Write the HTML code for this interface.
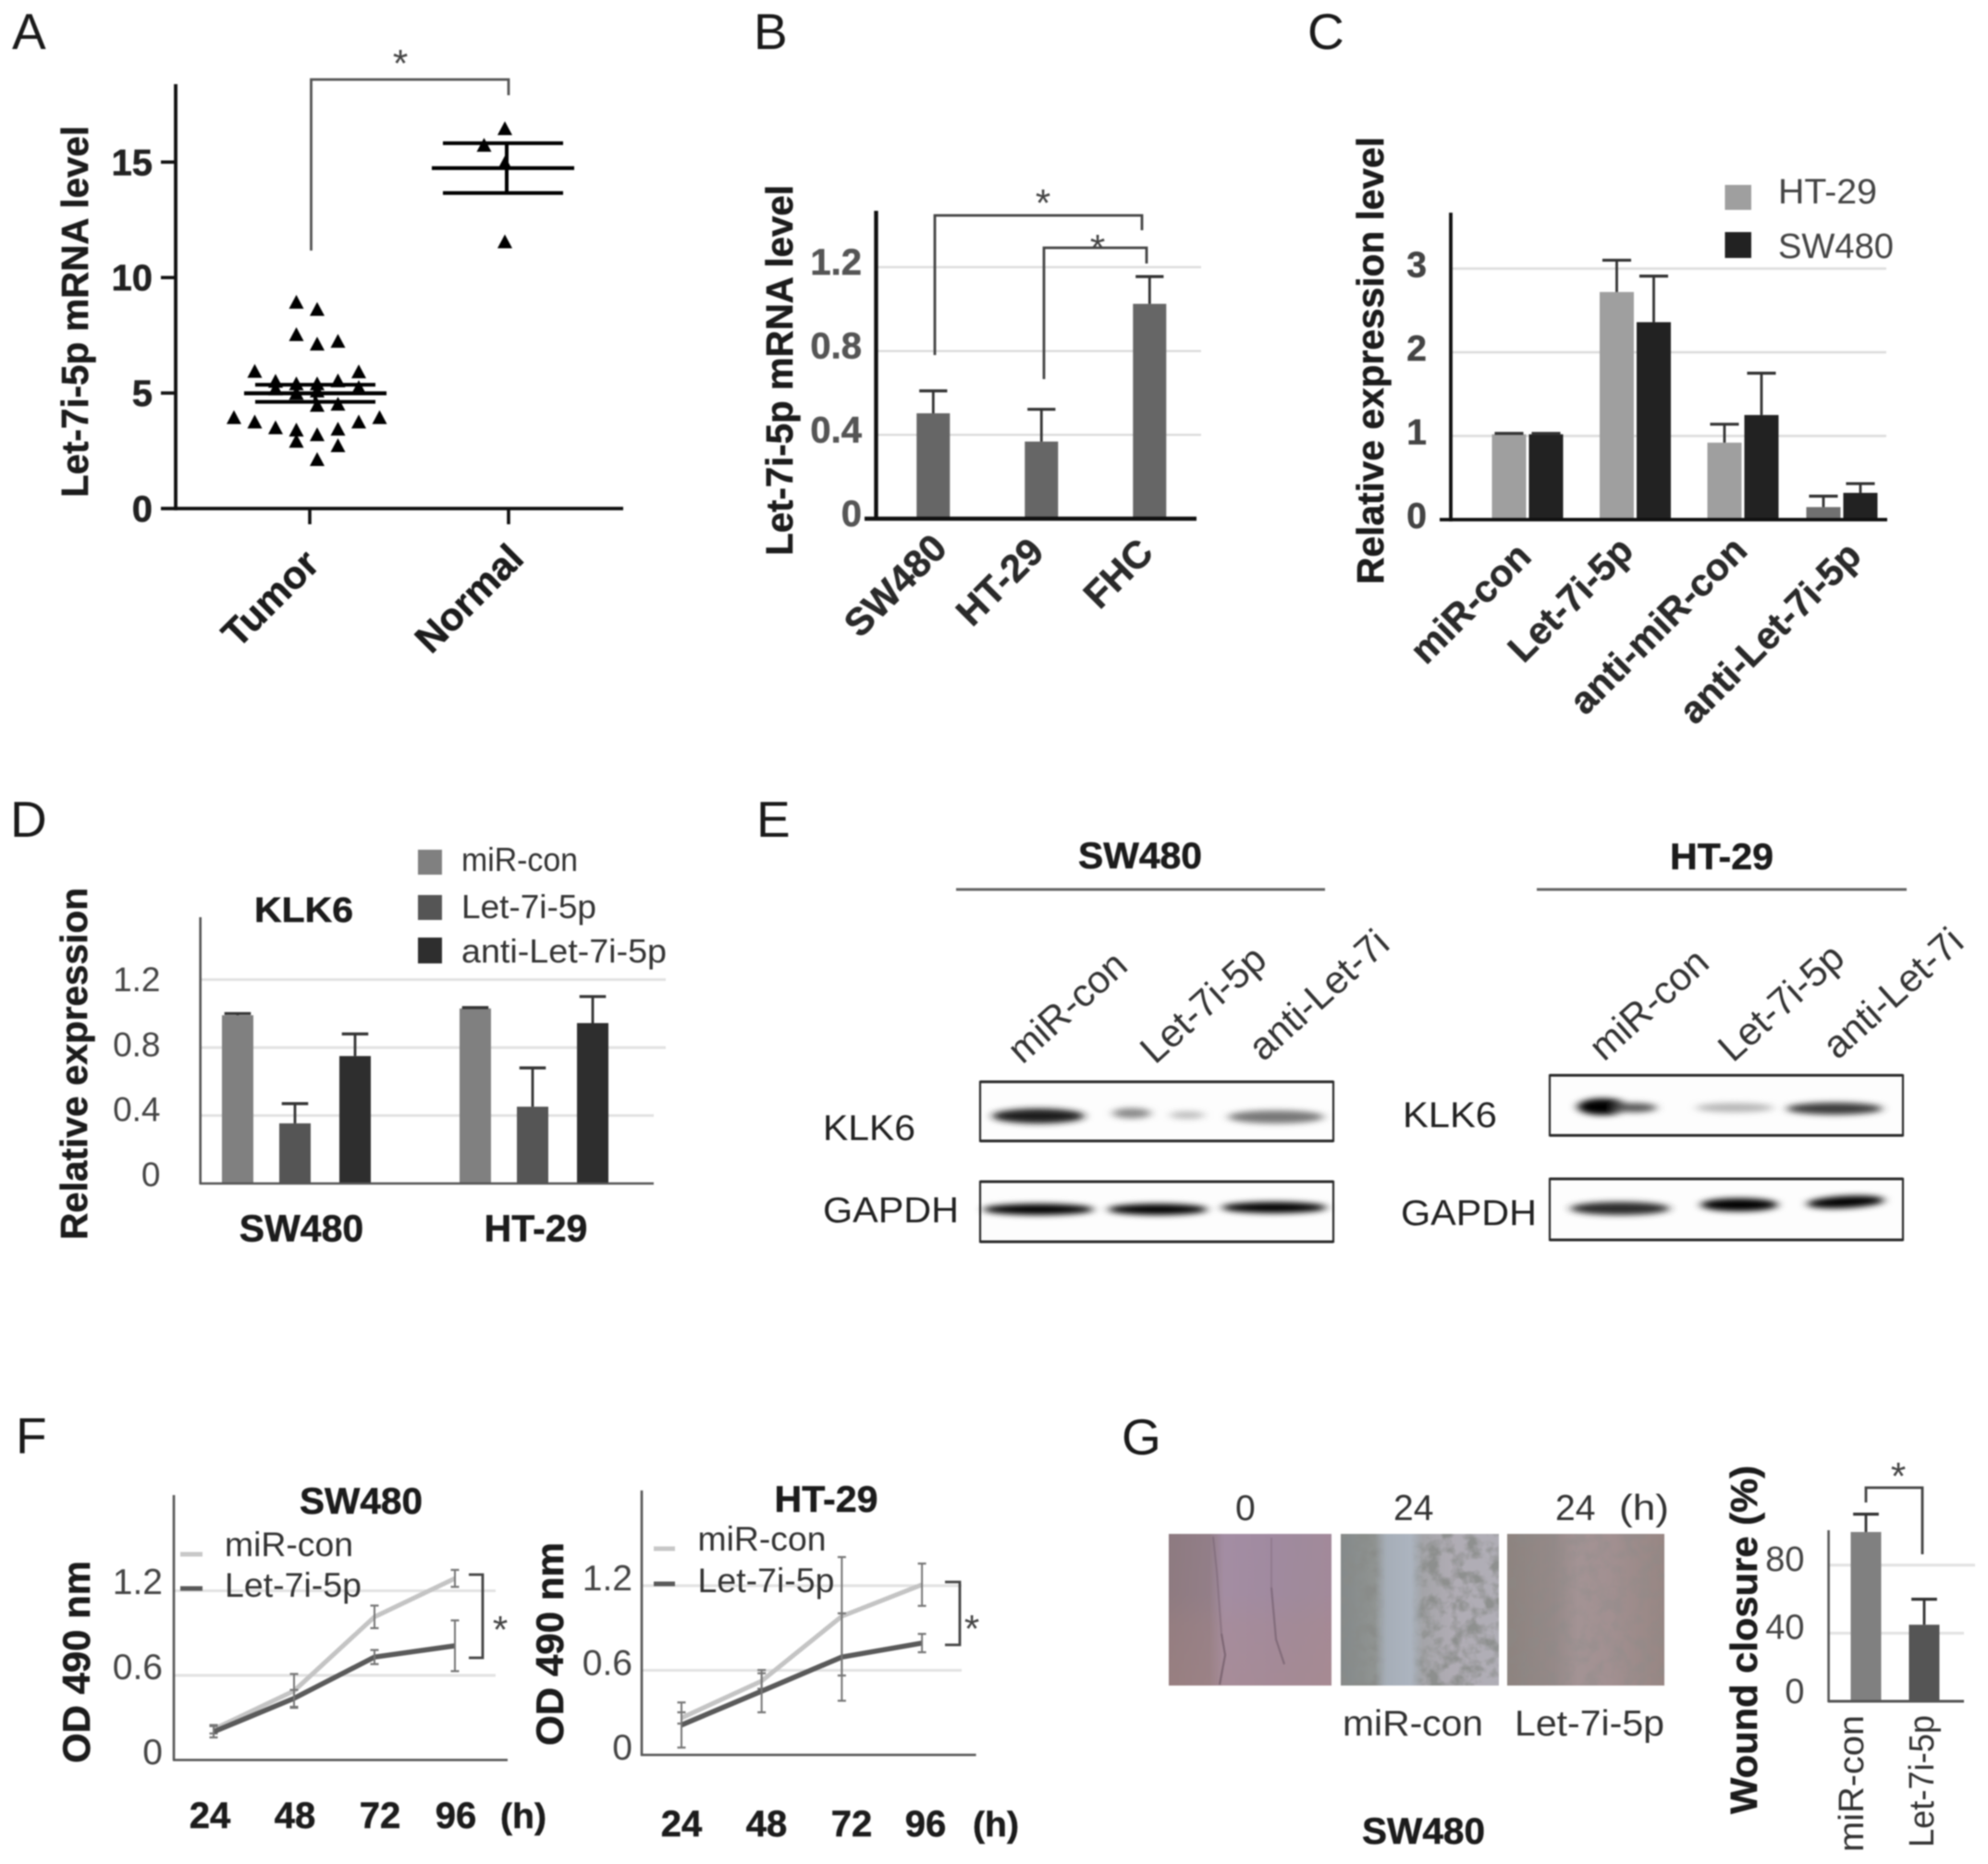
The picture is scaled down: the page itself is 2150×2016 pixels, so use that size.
<!DOCTYPE html>
<html lang="en">
<head>
<meta charset="utf-8">
<title>Let-7i-5p multi-panel figure</title>
<style>
html,body{margin:0;padding:0;background:#fff;}
svg{display:block;position:absolute;left:0;top:0;filter:blur(0.8px);font-family:"Liberation Sans",Arial,sans-serif;}
.panel{font-size:55px;fill:#1a1a1a;}
.bt{font-weight:700;fill:#1c1c1c;stroke:#1c1c1c;stroke-width:0.5;}
.rt{font-weight:400;fill:#333;}
.star{font-size:42px;fill:#444;text-anchor:middle;}
.br{fill:none;stroke:#444;stroke-width:2.8;}
.ax{stroke:#111;}
.thin{stroke:#555;stroke-width:2.6;}
.box{fill:#fdfdfd;stroke:#2c2c2c;stroke-width:2.2;}
.edge{stroke:#2c2c2c;stroke-width:3;}
</style>
</head>
<body>
<svg id="fig" xmlns="http://www.w3.org/2000/svg" width="2150" height="2016" viewBox="0 0 2150 2016">
<defs>
<filter id="bandBlur" x="-30%" y="-200%" width="160%" height="500%"><feGaussianBlur stdDeviation="5 3.2"/></filter>
<filter id="speckle" x="0" y="0" width="100%" height="100%">
  <feTurbulence type="fractalNoise" baseFrequency="0.07" numOctaves="3" seed="4"/>
  <feColorMatrix type="matrix" values="0 0 0 0 0.25  0 0 0 0 0.26  0 0 0 0 0.25  2.2 2.2 0 0 -1.9"/>
</filter>
<linearGradient id="woundA" x1="0" x2="1" y1="0" y2="0">
  <stop offset="0" stop-color="#8d7a80"/><stop offset="0.25" stop-color="#927e88"/><stop offset="0.34" stop-color="#a38da3"/><stop offset="0.62" stop-color="#a08aa0"/><stop offset="0.8" stop-color="#9f8a9c"/><stop offset="1" stop-color="#a2899a"/>
</linearGradient>
<linearGradient id="woundAPink" x1="0" x2="0" y1="0" y2="1">
  <stop offset="0" stop-color="#b08a80" stop-opacity="0"/><stop offset="0.4" stop-color="#b08a80" stop-opacity="0.03"/><stop offset="0.6" stop-color="#b08a80" stop-opacity="0.2"/><stop offset="1" stop-color="#b08a80" stop-opacity="0.3"/>
</linearGradient>
<linearGradient id="woundB" x1="0" x2="1" y1="0" y2="0">
  <stop offset="0" stop-color="#84898a"/><stop offset="0.2" stop-color="#8f9391"/><stop offset="0.36" stop-color="#999c9e"/><stop offset="0.52" stop-color="#a4a4a8"/><stop offset="0.7" stop-color="#b0acb4"/><stop offset="1" stop-color="#b0aeb6"/>
</linearGradient>
<linearGradient id="woundBand" x1="0" x2="1" y1="0" y2="0">
  <stop offset="0" stop-color="#aab2bc" stop-opacity="0"/><stop offset="0.25" stop-color="#a6aeb8" stop-opacity="1"/><stop offset="0.75" stop-color="#acb4bf" stop-opacity="1"/><stop offset="1" stop-color="#aab2bc" stop-opacity="0"/>
</linearGradient>
<linearGradient id="woundC" x1="0" x2="1" y1="0" y2="0">
  <stop offset="0" stop-color="#8d837f"/><stop offset="0.3" stop-color="#958988"/><stop offset="0.45" stop-color="#a39394"/><stop offset="0.65" stop-color="#a29091"/><stop offset="1" stop-color="#978683"/>
</linearGradient>
</defs>

<!-- Panel A -->
<g>
  <text class="panel" x="13" y="53">A</text>
  <g id="a-marks"></g>
  <line class="ax" x1="190" y1="91" x2="190" y2="552" stroke-width="3.8"/>
  <line class="ax" x1="174" y1="550" x2="674" y2="550" stroke-width="3.8"/>
  <text class="bt" font-size="41" x="95" y="538" textLength="402" lengthAdjust="spacingAndGlyphs" transform="rotate(-90 95 538)">Let-7i-5p mRNA level</text>
  <path class="br" style="stroke:#555" d="M336.5 271V86H550V103"/>
  <text class="star" x="433" y="83">*</text>
</g>

<!-- Panel B -->
<g>
  <text class="panel" x="815" y="53">B</text>
  <g id="b-marks"></g>
  <line class="ax" x1="947.5" y1="228" x2="947.5" y2="563" stroke-width="4.4"/>
  <line class="ax" x1="935" y1="561" x2="1294" y2="561" stroke-width="4.4"/>
  <text class="bt" font-size="41" x="857" y="601" textLength="401" lengthAdjust="spacingAndGlyphs" transform="rotate(-90 857 601)">Let-7i-5p mRNA level</text>
  <path class="br" d="M1011 384V233H1235V249"/>
  <path class="br" d="M1129 410V268H1240V285"/>
  <text class="star" x="1128" y="234">*</text>
  <text class="star" x="1187" y="283">*</text>
</g>

<!-- Panel C -->
<g>
  <text class="panel" x="1414" y="53">C</text>
  <g id="c-marks"></g>
  <line class="ax" x1="1569" y1="230" x2="1569" y2="564" stroke-width="3.8"/>
  <line class="ax" x1="1557" y1="562" x2="2041" y2="562" stroke-width="3.8"/>
  <text class="bt" font-size="41" x="1496" y="632" textLength="484" lengthAdjust="spacingAndGlyphs" transform="rotate(-90 1496 632)">Relative expression level</text>
  <rect x="1865.5" y="200" width="28.5" height="27" fill="#9f9f9f"/>
  <rect x="1865.5" y="251" width="28.5" height="28" fill="#222"/>
  <text x="1923" y="220" font-size="38" fill="#444" textLength="107" lengthAdjust="spacingAndGlyphs">HT-29</text>
  <text x="1923" y="279" font-size="38" fill="#444" textLength="125" lengthAdjust="spacingAndGlyphs">SW480</text>
</g>

<!-- Panel D -->
<g>
  <text class="panel" x="11" y="905">D</text>
  <g id="d-marks"></g>
  <line class="thin" x1="216.7" y1="992" x2="216.7" y2="1281"/>
  <line class="thin" x1="216" y1="1280" x2="707" y2="1280"/>
  <text class="bt" font-size="41" x="94" y="1341" textLength="381" lengthAdjust="spacingAndGlyphs" transform="rotate(-90 94 1341)">Relative expression</text>
  <text class="bt" font-size="38" x="275" y="997" textLength="107" lengthAdjust="spacingAndGlyphs">KLK6</text>
  <rect x="452" y="919" width="26" height="27" fill="#808080"/>
  <rect x="452" y="968" width="26" height="27" fill="#555"/>
  <rect x="452" y="1014" width="26" height="28" fill="#2e2e2e"/>
  <text class="rt" font-size="36" x="499" y="942" textLength="126" lengthAdjust="spacingAndGlyphs">miR-con</text>
  <text class="rt" font-size="36" x="499" y="993" textLength="146" lengthAdjust="spacingAndGlyphs">Let-7i-5p</text>
  <text class="rt" font-size="36" x="499" y="1041" textLength="222" lengthAdjust="spacingAndGlyphs">anti-Let-7i-5p</text>
</g>

<!-- Panel E -->
<g>
  <text class="panel" x="818" y="905">E</text>
  <text class="bt" font-size="40" x="1166" y="939" textLength="134" lengthAdjust="spacingAndGlyphs">SW480</text>
  <text class="bt" font-size="40" x="1806" y="940" textLength="112" lengthAdjust="spacingAndGlyphs">HT-29</text>
  <line x1="1034" y1="962" x2="1433" y2="962" stroke="#666" stroke-width="3"/>
  <line x1="1662" y1="962" x2="2062" y2="962" stroke="#666" stroke-width="3"/>
  <g font-size="42" fill="#333" text-anchor="middle">
    <text x="1155" y="1103" transform="rotate(-42 1155 1090)">miR-con</text>
    <text x="1302" y="1100" transform="rotate(-42 1302 1087)">Let-7i-5p</text>
    <text x="1427" y="1090" transform="rotate(-42 1427 1077)">anti-Let-7i</text>
    <text x="1784" y="1100" transform="rotate(-42 1784 1087)">miR-con</text>
    <text x="1927" y="1098" transform="rotate(-42 1927 1085)">Let-7i-5p</text>
    <text x="2048" y="1088" transform="rotate(-42 2048 1075)">anti-Let-7i</text>
  </g>
  <text font-size="39" fill="#222" x="890" y="1233" textLength="100" lengthAdjust="spacingAndGlyphs">KLK6</text>
  <text font-size="39" fill="#222" x="890" y="1322" textLength="147" lengthAdjust="spacingAndGlyphs">GAPDH</text>
  <text font-size="39" fill="#222" x="1517" y="1219" textLength="102" lengthAdjust="spacingAndGlyphs">KLK6</text>
  <text font-size="39" fill="#222" x="1515" y="1325" textLength="147" lengthAdjust="spacingAndGlyphs">GAPDH</text>

  <g>
    <rect class="box" x="1060" y="1170" width="382" height="64"/>
    <g filter="url(#bandBlur)">
      <ellipse cx="1123" cy="1207" rx="50" ry="8" fill="#1a1a1a"/>
      <ellipse cx="1224" cy="1204" rx="21" ry="5.5" fill="#888"/>
      <ellipse cx="1284" cy="1206" rx="19" ry="4" fill="#bbb"/>
      <ellipse cx="1380" cy="1208" rx="52" ry="7" fill="#777"/>
    </g>
    <line class="edge" x1="1060" y1="1170" x2="1442" y2="1170"/>
    <line class="edge" x1="1060" y1="1234" x2="1442" y2="1234"/>
  </g>
  <g>
    <rect class="box" x="1060" y="1278" width="382" height="65"/>
    <g filter="url(#bandBlur)">
      <ellipse cx="1123" cy="1308" rx="60" ry="6" fill="#000"/>
      <ellipse cx="1252" cy="1308" rx="54" ry="6" fill="#000"/>
      <ellipse cx="1378" cy="1306" rx="57" ry="6" fill="#000"/>
    </g>
    <line class="edge" x1="1060" y1="1278" x2="1442" y2="1278"/>
    <line class="edge" x1="1060" y1="1343" x2="1442" y2="1343"/>
  </g>
  <g>
    <rect class="box" x="1676" y="1163" width="382" height="65"/>
    <g filter="url(#bandBlur)">
      <ellipse cx="1733" cy="1197" rx="27" ry="9" fill="#000"/>
      <ellipse cx="1768" cy="1198" rx="24" ry="5" fill="#555"/>
      <ellipse cx="1876" cy="1198" rx="42" ry="5" fill="#b5b5b5"/>
      <ellipse cx="1984" cy="1199" rx="52" ry="6.5" fill="#3a3a3a"/>
    </g>
    <line class="edge" x1="1676" y1="1163" x2="2058" y2="1163"/>
    <line class="edge" x1="1676" y1="1228" x2="2058" y2="1228"/>
  </g>
  <g>
    <rect class="box" x="1676" y="1275" width="382" height="66"/>
    <g filter="url(#bandBlur)">
      <ellipse cx="1752" cy="1307" rx="54" ry="7" fill="#2a2a2a"/>
      <ellipse cx="1881" cy="1303" rx="42" ry="7" fill="#000"/>
      <ellipse cx="1996" cy="1300" rx="42" ry="6.5" fill="#000" transform="rotate(-3 1996 1300)"/>
    </g>
    <line class="edge" x1="1676" y1="1275" x2="2058" y2="1275"/>
    <line class="edge" x1="1676" y1="1341" x2="2058" y2="1341"/>
  </g>
</g>

<!-- Panel F -->
<g>
  <text class="panel" x="17" y="1572">F</text>
  <g id="f1-marks"></g>
  <line class="thin" x1="188" y1="1617" x2="188" y2="1904"/>
  <line class="thin" x1="187" y1="1903.5" x2="549" y2="1903.5"/>
  <text class="bt" font-size="42" x="97" y="1907" textLength="219" lengthAdjust="spacingAndGlyphs" transform="rotate(-90 97 1907)">OD 490 nm</text>
  <text class="bt" font-size="40" x="324" y="1637" textLength="133" lengthAdjust="spacingAndGlyphs">SW480</text>
  <line x1="195" y1="1681" x2="219" y2="1681" stroke="#c8c8c8" stroke-width="5"/>
  <line x1="195" y1="1718" x2="219" y2="1718" stroke="#5a5a5a" stroke-width="5"/>
  <text class="rt" font-size="37.5" x="243" y="1683" textLength="139" lengthAdjust="spacingAndGlyphs">miR-con</text>
  <text class="rt" font-size="37.5" x="243" y="1727" textLength="148" lengthAdjust="spacingAndGlyphs">Let-7i-5p</text>
  <path class="br" style="stroke-width:2.8" d="M507 1703H522V1793H507"/>
  <text class="star" x="541" y="1777">*</text>
  <text class="bt" font-size="38" x="541" y="1977" textLength="50" lengthAdjust="spacingAndGlyphs">(h)</text>

  <g id="f2-marks"></g>
  <line class="thin" x1="694" y1="1612" x2="694" y2="1899"/>
  <line class="thin" x1="693" y1="1898" x2="1055.6" y2="1898"/>
  <text class="bt" font-size="42" x="609" y="1888" textLength="220" lengthAdjust="spacingAndGlyphs" transform="rotate(-90 609 1888)">OD 490 nm</text>
  <text class="bt" font-size="40" x="837.5" y="1635" textLength="112" lengthAdjust="spacingAndGlyphs">HT-29</text>
  <line x1="707" y1="1675" x2="730" y2="1675" stroke="#c8c8c8" stroke-width="5"/>
  <line x1="707" y1="1713" x2="730" y2="1713" stroke="#5a5a5a" stroke-width="5"/>
  <text class="rt" font-size="37.5" x="754.5" y="1677" textLength="139" lengthAdjust="spacingAndGlyphs">miR-con</text>
  <text class="rt" font-size="37.5" x="754.5" y="1722" textLength="148" lengthAdjust="spacingAndGlyphs">Let-7i-5p</text>
  <path class="br" style="stroke-width:2.8" d="M1022 1711H1038V1779H1022"/>
  <text class="star" x="1051" y="1776">*</text>
  <text class="bt" font-size="38" x="1052" y="1986" textLength="50" lengthAdjust="spacingAndGlyphs">(h)</text>
</g>

<!-- Panel G -->
<g>
  <text class="panel" x="1213" y="1573">G</text>
  <g font-size="39" fill="#333">
    <text x="1336" y="1644">0</text>
    <text x="1507" y="1644">24</text>
    <text x="1682" y="1644">24</text>
    <text x="1751" y="1644" textLength="54" lengthAdjust="spacingAndGlyphs">(h)</text>
    <text x="1452" y="1877" textLength="152" lengthAdjust="spacingAndGlyphs">miR-con</text>
    <text x="1638" y="1877" textLength="162" lengthAdjust="spacingAndGlyphs">Let-7i-5p</text>
  </g>
  <text class="bt" font-size="40" x="1473" y="1994" textLength="133" lengthAdjust="spacingAndGlyphs">SW480</text>
  <g>
    <rect x="1264" y="1659" width="176" height="164" fill="url(#woundA)"/>
    <rect x="1264" y="1659" width="176" height="164" fill="url(#woundAPink)"/>
    <path d="M1312 1662L1316 1700L1321 1767" fill="none" stroke="#5e4a58" stroke-width="2" stroke-opacity="0.3"/>
    <path d="M1321 1767L1325 1790L1319 1822" fill="none" stroke="#5e4a58" stroke-width="2.2" stroke-opacity="0.55"/>
    <path d="M1375 1663L1375 1717" fill="none" stroke="#5e4a58" stroke-width="2" stroke-opacity="0.22"/>
    <path d="M1375 1717L1380 1773L1389 1800" fill="none" stroke="#5e4a58" stroke-width="2.2" stroke-opacity="0.45"/>
  </g>
  <g>
    <rect x="1450" y="1659" width="171" height="164" fill="url(#woundB)"/>
    <rect x="1450" y="1659" width="171" height="164" filter="url(#speckle)" opacity="0.85"/>
    <rect x="1487" y="1659" width="52" height="164" fill="url(#woundBand)"/>
  </g>
  <g>
    <rect x="1630" y="1659" width="170" height="164" fill="url(#woundC)"/>
    <rect x="1630" y="1659" width="170" height="164" filter="url(#speckle)" opacity="0.3"/>
  </g>

  <g id="g-marks"></g>
  <line class="thin" x1="1977.6" y1="1655" x2="1977.6" y2="1841"/>
  <line class="thin" x1="1977" y1="1840" x2="2124" y2="1840" style="stroke-width:3"/>
  <text class="bt" font-size="41" x="1900" y="1962" textLength="377" lengthAdjust="spacingAndGlyphs" transform="rotate(-90 1900 1962)">Wound closure (%)</text>
  <text font-size="38" fill="#333" x="2015" y="2003" textLength="148" lengthAdjust="spacingAndGlyphs" transform="rotate(-90 2015 2003)">miR-con</text>
  <text font-size="38" fill="#333" x="2091" y="1998" textLength="143" lengthAdjust="spacingAndGlyphs" transform="rotate(-90 2091 1998)">Let-7i-5p</text>
  <path class="br" d="M2018 1625V1609H2079V1681"/>
  <text class="star" x="2053" y="1611">*</text>
</g>
</svg>

<script>
// ---------- Panel A data ----------
const aCategories = ['Tumor', 'Normal'];
const aTickLabels = ['0', '5', '10', '15'];
const aTumorValues = [8.93, 8.62, 7.53, 7.12, 7.24, 5.94, 5.92, 5.51, 5.40, 5.40, 5.53, 5.24, 5.18, 4.99, 5.09, 4.47, 4.52, 3.94, 3.75, 3.50, 3.40, 3.20, 3.44, 3.75, 3.94, 2.91, 2.72, 2.12];
const aTumorColumns = [-1, 0, -1, 0, 1, -3, 2, -2, -1, 0, 1, 2, -2, -1, 0, 0, 1, -4, -3, -2, -1, 0, 1, 2, 3, -1, 1, 0];
const aNormalValues = [16.45, 15.73, 14.95, 11.55];
const aNormalColumns = [0, -1, 0, 0];
const aMeans = [4.99, 14.74];
const aSems = [0.37, 1.08];

// ---------- Panel B data ----------
const bCategories = ['SW480', 'HT-29', 'FHC'];
const bTickLabels = ['0', '0.4', '0.8', '1.2'];
const bValues = [0.503, 0.368, 1.025];
const bErrors = [0.107, 0.154, 0.130];

// ---------- Panel C data ----------
const cCategories = ['miR-con', 'Let-7i-5p', 'anti-miR-con', 'anti-Let-7i-5p'];
const cTickLabels = ['0', '1', '2', '3'];
const cHt29Values = [1.02, 2.72, 0.92, 0.15];
const cHt29Errors = [0.01, 0.38, 0.22, 0.13];
const cSw480Values = [1.02, 2.36, 1.25, 0.32];
const cSw480Errors = [0.01, 0.55, 0.50, 0.11];

// ---------- Panel D data ----------
const dGroups = ['SW480', 'HT-29'];
const dTickLabels = ['0', '0.4', '0.8', '1.2'];
const dMirConValues = [0.99, 1.03];
const dMirConErrors = [0.01, 0.005];
const dLetValues = [0.354, 0.452];
const dLetErrors = [0.116, 0.228];
const dAntiValues = [0.75, 0.944];
const dAntiErrors = [0.13, 0.156];

// ---------- Panel F data ----------
const fHours = ['24', '48', '72', '96'];
const fTickLabels = ['0', '0.6', '1.2'];
const f1MirCon = [0.218, 0.49, 1.015, 1.288];
const f1MirConErr = [0.03, 0.12, 0.08, 0.06];
const f1Let = [0.20, 0.437, 0.73, 0.81];
const f1LetErr = [0.04, 0.06, 0.05, 0.18];
const f2MirCon = [0.262, 0.524, 0.983, 1.207];
const f2MirConErr = [0.04, 0.055, 0.42, 0.15];
const f2Let = [0.212, 0.452, 0.694, 0.793];
const f2LetErr = [0.16, 0.15, 0.31, 0.065];

// ---------- Panel G data ----------
const gTickLabels = ['0', '40', '80'];
const gValues = [99.5, 45];
const gErrors = [10.5, 15];

// ---------- helpers ----------
const SVGNS = 'http://www.w3.org/2000/svg';
function add(parent, tag, name, attrs) {
  const el = document.createElementNS(SVGNS, tag);
  for (const k in attrs) el.setAttribute(k, attrs[k]);
  
  
  parent.appendChild(el);
  return el;
}
function addLine(parent, name, x1, y1, x2, y2, stroke, width) {
  return add(parent, 'line', name, {x1: x1, y1: y1, x2: x2, y2: y2, stroke: stroke, 'stroke-width': width});
}
function addText(parent, name, str, x, y, size, fill, opts) {
  const t = add(parent, 'text', name, Object.assign({x: x, y: y, 'font-size': size, fill: fill}, opts || {}));
  t.textContent = str;
  return t;
}
function addRotated(parent, name, str, cx, cy, size, fill, angle) {
  return addText(parent, name, str, cx, cy + size * 0.35, size, fill, {
    'font-weight': 700, 'text-anchor': 'middle', stroke: fill, 'stroke-width': 0.5,
    transform: 'rotate(' + angle + ' ' + cx + ' ' + cy + ')'
  });
}
function drawBar(parent, name, cx, width, y, y0, fill, err, errColor) {
  add(parent, 'rect', name, {x: cx - width / 2, y: y, width: width, height: y0 - y, fill: fill});
  addLine(parent, name + '-error', cx, y, cx, err, errColor, 2.8);
  addLine(parent, name + '-error-cap', cx - width * 0.42, err, cx + width * 0.42, err, errColor, 3.2);
}

// ---------- Panel A ----------
(function () {
  const g = document.getElementById('a-marks');
  const yA = v => 550 - v * 24.98;
  const catX = i => 341 + i * 203;
  const tickX = i => 335 + i * 215;
  const colX = (i, c) => catX(i) + 2 + c * 22.5;
  aTickLabels.forEach(function (lab) {
    const v = parseFloat(lab);
    if (v > 0) addLine(g, 'y-tick-' + lab, 174, yA(v), 190, yA(v), '#111', 3.6);
    addText(g, 'y-tick-label-' + lab, lab, 165, yA(v) + 14, 40, '#222', {'font-weight': 700, 'text-anchor': 'end', stroke: '#222', 'stroke-width': 0.5});
  });
  aCategories.forEach(function (cat, i) {
    addLine(g, 'x-tick-' + cat, tickX(i), 550, tickX(i), 567, '#111', 3.6);
    addRotated(g, 'x-label-' + cat, cat, tickX(i) - 43, 647, 42, '#1c1c1c', -45);
  });
  function triangle(name, x, y) {
    add(g, 'polygon', name, {
      points: (x) + ',' + (y - 8) + ' ' + (x - 8) + ',' + (y + 7) + ' ' + (x + 8) + ',' + (y + 7),
      fill: '#000'
    });
  }
  aTumorValues.forEach(function (v, k) { triangle('tumor-point', colX(0, aTumorColumns[k]), yA(v)); });
  aNormalValues.forEach(function (v, k) { triangle('normal-point', colX(1, aNormalColumns[k]), yA(v)); });
  aMeans.forEach(function (m, i) {
    const c = catX(i);
    addLine(g, 'mean-line', c - 77, yA(m), c + 77, yA(m), '#000', 4.2);
    addLine(g, 'sem-upper-line', c - 65, yA(m + aSems[i]), c + 65, yA(m + aSems[i]), '#000', 4);
    addLine(g, 'sem-lower-line', c - 65, yA(m - aSems[i]), c + 65, yA(m - aSems[i]), '#000', 4);
    addLine(g, 'sem-stem', c + i * 4, yA(m + aSems[i]), c + i * 4, yA(m - aSems[i]), '#000', 4);
  });
})();

// ---------- Panel B ----------
(function () {
  const g = document.getElementById('b-marks');
  const yB = v => 561 - v * 226.7;
  const xB = i => 1009.3 + i * 117;
  bTickLabels.forEach(function (lab) {
    const v = parseFloat(lab);
    if (v > 0) addLine(g, 'grid-line-' + lab, 948, yB(v), 1299, yB(v), '#dcdcdc', 2.4);
    addText(g, 'y-tick-label-' + lab, lab, 932, yB(v) + 8, 40, '#555', {'font-weight': 700, 'text-anchor': 'end', stroke: '#555', 'stroke-width': 0.5});
  });
  const labelCx = [968, 1081, 1209];
  const labelCy = [633, 629, 620];
  bCategories.forEach(function (cat, i) {
    drawBar(g, 'bar-' + cat, xB(i), 36, yB(bValues[i]), 561, '#666', yB(bValues[i] + bErrors[i]), '#333');
    addRotated(g, 'x-label-' + cat, cat, labelCx[i], labelCy[i], 41.5, '#2a2a2a', -45);
  });
})();

// ---------- Panel C ----------
(function () {
  const g = document.getElementById('c-marks');
  const yC = v => 562 - v * 90.5;
  const xC = i => 1652 + i * 116.5 - (i === 3 ? 9.5 : 0);
  cTickLabels.forEach(function (lab) {
    const v = parseFloat(lab);
    if (v > 0) addLine(g, 'grid-line-' + lab, 1570, yC(v), 2040, yC(v), '#dcdcdc', 2.4);
    addText(g, 'y-tick-label-' + lab, lab, 1543, yC(v) + 9, 39, '#444', {'font-weight': 700, 'text-anchor': 'end', stroke: '#444', 'stroke-width': 0.5});
  });
  const labelCx = [1590, 1698, 1793, 1914];
  const labelCy = [652, 648, 676, 684];
  cCategories.forEach(function (cat, i) {
    const htFill = i === 3 ? '#707070' : '#9f9f9f';
    drawBar(g, 'bar-ht29-' + cat, xC(i) - 20, 37, yC(cHt29Values[i]), 562, htFill, yC(cHt29Values[i] + cHt29Errors[i]), '#333');
    drawBar(g, 'bar-sw480-' + cat, xC(i) + 20, 37, yC(cSw480Values[i]), 562, '#222', yC(cSw480Values[i] + cSw480Errors[i]), '#333');
    addRotated(g, 'x-label-' + cat, cat, labelCx[i], labelCy[i], 41, '#2a2a2a', -45);
  });
})();

// ---------- Panel D ----------
(function () {
  const g = document.getElementById('d-marks');
  const yD = v => 1280 - v * 183.8;
  const labelY = v => 1283 - v * 175.8;
  const xD = (grp, s) => 319 + grp * 257 + (s - 1) * 62 + (s === 2 ? 3 : 0);
  dTickLabels.forEach(function (lab) {
    const v = parseFloat(lab);
    if (v > 0) addLine(g, 'grid-line-' + lab, 218, yD(v), v > 0.5 ? 720 : 707, yD(v), '#e2e2e2', 3);
    addText(g, 'y-tick-label-' + lab, lab, 173.5, labelY(v), 37, '#444', {'text-anchor': 'end'});
  });
  dGroups.forEach(function (grp, i) {
    drawBar(g, 'bar-mir-con-' + grp, xD(i, 0), 34, yD(dMirConValues[i]), 1280, '#808080', yD(dMirConValues[i] + dMirConErrors[i]), '#333');
    drawBar(g, 'bar-let-' + grp, xD(i, 1), 34, yD(dLetValues[i]), 1280, '#555', yD(dLetValues[i] + dLetErrors[i]), '#333');
    drawBar(g, 'bar-anti-' + grp, xD(i, 2), 34, yD(dAntiValues[i]), 1280, '#2e2e2e', yD(dAntiValues[i] + dAntiErrors[i]), '#333');
    addText(g, 'group-label-' + grp, grp, i === 0 ? 326 : 579.5, 1342.5, 41, '#1c1c1c', {'font-weight': 700, 'text-anchor': 'middle', stroke: '#1c1c1c', 'stroke-width': 0.5});
  });
})();

// ---------- Panel F ----------
function drawLineChart(g, cfg, mir, mirErr, letV, letErr) {
  const y = v => cfg.y0 - v * cfg.perUnit;
  const x = i => cfg.x0 + i * cfg.dx;
  const labelY = v => cfg.labelY0 - v * cfg.labelPerUnit;
  fTickLabels.forEach(function (lab) {
    const v = parseFloat(lab);
    if (v > 0) addLine(g, 'grid-line-' + lab, cfg.axisX + 1, y(v), cfg.gridEnd, y(v), '#e2e2e2', 3);
    addText(g, 'y-tick-label-' + lab, lab, cfg.tickRight, labelY(v), 39, '#444', {'text-anchor': 'end'});
  });
  fHours.forEach(function (h, i) {
    addText(g, 'x-tick-label-' + h, h, cfg.hourX(i), cfg.hourBase, 40, '#1c1c1c', {'font-weight': 700, 'text-anchor': 'middle', stroke: '#1c1c1c', 'stroke-width': 0.5});
  });
  function series(name, vals, errs, color, width) {
    add(g, 'polyline', name + '-line', {
      points: vals.map((v, i) => x(i) + ',' + y(v)).join(' '),
      fill: 'none', stroke: color, 'stroke-width': width, 'stroke-linejoin': 'round'
    });
    vals.forEach(function (v, i) {
      const top = y(v + errs[i]);
      const bot = y(v - errs[i]);
      addLine(g, name + '-error', x(i), top, x(i), bot, '#777', 2);
      addLine(g, name + '-error-cap', x(i) - 4.5, top, x(i) + 4.5, top, '#777', 2.2);
      addLine(g, name + '-error-cap', x(i) - 4.5, bot, x(i) + 4.5, bot, '#777', 2.2);
    });
  }
  series('mir-con', mir, mirErr, '#c4c4c4', 5);
  series('let-7i-5p', letV, letErr, '#5a5a5a', 5.5);
}
drawLineChart(document.getElementById('f1-marks'), {
  y0: 1903.5, perUnit: 152.5, x0: 231, dx: 87, axisX: 188, gridEnd: 536, tickRight: 176,
  labelY0: 1908, labelPerUnit: 153.3, hourBase: 1977,
  hourX: i => 227 + i * 92 - (i === 3 ? 10 : 0)
}, f1MirCon, f1MirConErr, f1Let, f1LetErr);
drawLineChart(document.getElementById('f2-marks'), {
  y0: 1898, perUnit: 152.5, x0: 737, dx: 86.7, axisX: 694, gridEnd: 1040, tickRight: 684,
  labelY0: 1903, labelPerUnit: 152.5, hourBase: 1986,
  hourX: i => 737 + i * 92 - (i === 3 ? 12 : 0)
}, f2MirCon, f2MirConErr, f2Let, f2LetErr);

// ---------- Panel G ----------
(function () {
  const g = document.getElementById('g-marks');
  const yG = v => 1840 - v * 1.84;
  const xG = i => 2018 + i * 63;
  const fills = ['#808080', '#555'];
  gTickLabels.forEach(function (lab) {
    const v = parseFloat(lab);
    if (v > 0) addLine(g, 'grid-line-' + lab, 1979, yG(v), v > 60 ? 2136 : 2124, yG(v), '#e2e2e2', 3);
    addText(g, 'y-tick-label-' + lab, lab, 1951.5, v === 0 ? 1842 : yG(v) + 6, 38, '#444', {'text-anchor': 'end'});
  });
  gValues.forEach(function (v, i) {
    drawBar(g, 'bar-wound-closure', xG(i), 33, yG(v), 1840, fills[i], yG(v + gErrors[i]), '#333');
  });
})();
</script>
</body>
</html>
